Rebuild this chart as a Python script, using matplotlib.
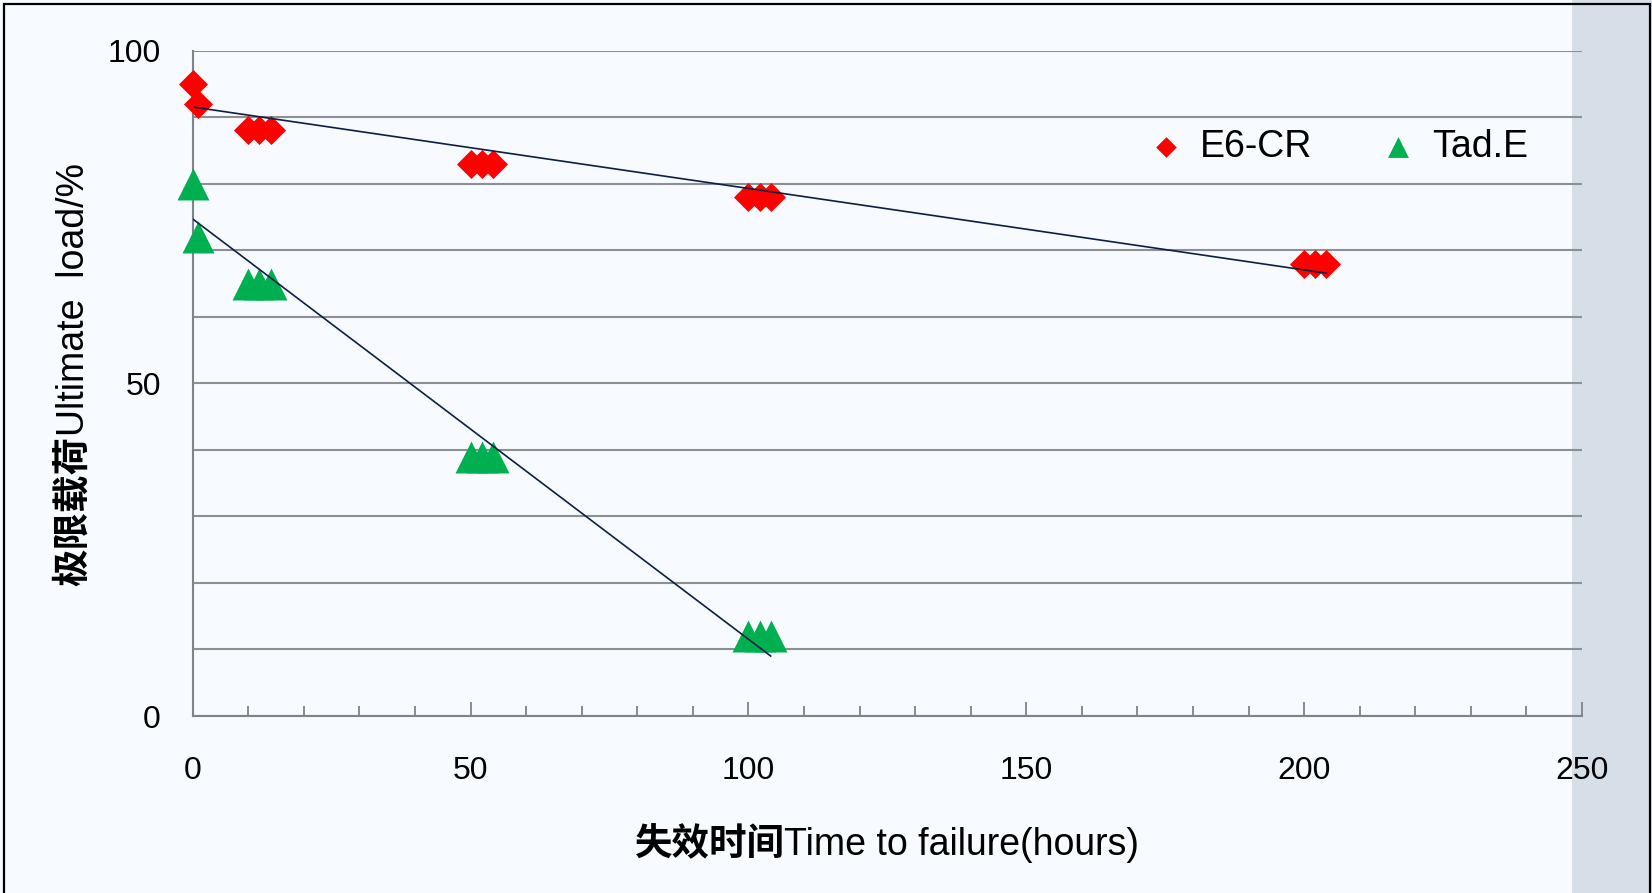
import numpy as np
import pandas as pd
import matplotlib
matplotlib.use("Agg")
import matplotlib.pyplot as plt
from matplotlib.patches import Rectangle
from matplotlib.ticker import MultipleLocator

plt.rcParams['font.family'] = ['Liberation Sans', 'Noto Sans CJK SC', 'DejaVu Sans']

# data
e6_time = [0, 1, 10, 12, 14, 50, 52, 54, 100, 102, 104, 200, 202, 204]
e6_load = [95, 92, 88, 88, 88, 83, 83, 83, 78, 78, 78, 68, 68, 68]
tad_time = [0, 1, 10, 12, 14, 50, 52, 54, 100, 102, 104]
tad_load = [80, 72, 65, 65, 65, 39, 39, 39, 12, 12, 12]

# axis titles: chinese part is bold in the original, english part regular
x_label = [('失效时间', 'bold'), ('Time to failure(hours)', 'normal')]
y_label = [('极限载荷', 'bold'), ('Ultimate  load/%', 'normal')]

W, H = 1652, 893
fig = plt.figure(figsize=(W / 100, H / 100), dpi=100)
fig.patch.set_facecolor('#f7fafe')

# grey strip on the right and the outer border
fig.patches.append(Rectangle((1572 / W, 0), 1, 1, transform=fig.transFigure,
                             facecolor='#d6dfe8', edgecolor='none', zorder=0))
fig.patches.append(Rectangle((4 / W, -0.05), 1646 / W, 1.045, transform=fig.transFigure,
                             facecolor='none', edgecolor='black', linewidth=1.6, zorder=5))

ax = fig.add_axes([0.1167, 0.1982, 0.8409, 0.7451])
ax.set_facecolor('none')
ax.set_zorder(2)


def trend(times, loads):
    # one point per group of repeated loads, then straight line fit
    d = pd.DataFrame({'t': times, 'l': loads}).groupby('l')['t'].mean()
    k, b = np.polyfit(d.values, d.index.values, 1)
    xs = np.array([0, max(times)])
    return xs, k * xs + b


def mixed_label(parts, cx, cy, rotation):
    # put the pieces one after another along the text direction, centred on (cx, cy) px
    r = fig.canvas.get_renderer()
    texts = []
    for s, w in parts:
        fam = ['Noto Sans CJK SC'] if w == 'bold' else ['Liberation Sans']
        texts.append(fig.text(0, 0, s, fontsize=27, fontweight=w, family=fam, rotation=rotation,
                              rotation_mode='anchor', ha='left', va='baseline'))
    sizes = []
    for t in texts:
        bb = t.get_window_extent(r)
        sizes.append(bb.width if rotation == 0 else bb.height)
    pos = -sum(sizes) / 2
    for t, sz in zip(texts, sizes):
        if rotation == 0:
            t.set_position(((cx + pos) / W, 1 - cy / H))
        else:
            t.set_position((cx / W, 1 - (cy - pos) / H))
        pos += sz


ax.scatter(e6_time, e6_load, marker='D', s=14.8 ** 2, color='#ff0000', linewidths=0,
           zorder=3, clip_on=False, label='E6-CR')
ax.scatter(tad_time, tad_load, marker='^', s=23 ** 2, color='#00b050', linewidths=0,
           zorder=3, clip_on=False, label='Tad.E')

tx, ty = trend(e6_time, e6_load)
ax.plot(tx, ty, color='#0d1f45', linewidth=1.2, zorder=4)
tx, ty = trend(tad_time, tad_load)
ax.plot(tx, ty, color='#0d1f45', linewidth=1.2, zorder=4)

ax.set_xlim(0, 250)
ax.set_ylim(0, 100)
ax.xaxis.set_major_locator(MultipleLocator(50))
ax.xaxis.set_minor_locator(MultipleLocator(10))
ax.yaxis.set_major_locator(MultipleLocator(50))
ax.yaxis.set_minor_locator(MultipleLocator(10))
ax.yaxis.grid(True, which='both', color='#8c8f94', linewidth=1.5)
ax.set_axisbelow(True)

for s in ['top', 'right']:
    ax.spines[s].set_visible(False)
for s in ['left', 'bottom']:
    ax.spines[s].set_color('#7f838a')
    ax.spines[s].set_linewidth(1.5)

ax.tick_params(axis='x', which='major', direction='in', length=10, width=1.3, color='#7f838a',
               labelsize=23, pad=29)
ax.tick_params(axis='x', which='minor', direction='in', length=7, width=1.3, color='#7f838a')
ax.tick_params(axis='y', which='both', length=0, labelsize=23, pad=23)

mixed_label(x_label, 887, 855, 0)
mixed_label(y_label, 84, 374, 90)

leg = ax.legend(loc='center left', bbox_to_anchor=(1132 / W, 1 - 147 / H),
                bbox_transform=fig.transFigure, ncol=2, frameon=False, fontsize=27,
                handlelength=0.8, handletextpad=0.5, columnspacing=1.9, borderpad=0)
for h, sz in zip(leg.legend_handles, [10.5 ** 2, 15 ** 2]):
    h.set_sizes([sz])

fig.savefig('out.png', dpi=100, facecolor=fig.get_facecolor())
